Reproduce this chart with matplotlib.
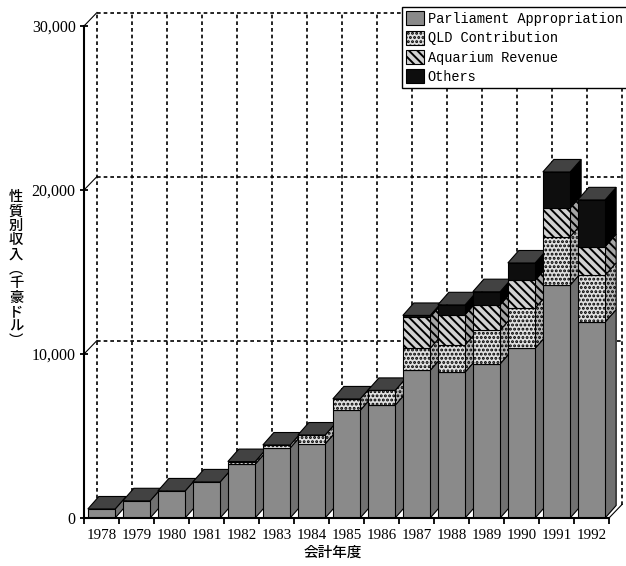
import matplotlib
matplotlib.use("Agg")
import matplotlib.pyplot as plt
from matplotlib.patches import Polygon, Patch
import numpy as np

# Revenue by source, thousand AUD
years = ["1978", "1979", "1980", "1981", "1982", "1983", "1984", "1985",
         "1986", "1987", "1988", "1989", "1990", "1991", "1992"]
parliament = [550, 1050, 1650, 2200, 3280, 4270, 4520, 6560, 6880,
              9000, 8900, 9400, 10350, 14200, 11950]
qld = [0, 0, 0, 0, 160, 180, 540, 700, 900,
       1350, 1650, 2050, 2450, 2950, 2850]
aquarium = [0, 0, 0, 0, 0, 0, 0, 0, 0,
            1900, 1850, 1550, 1700, 1750, 1750]
others = [0, 0, 0, 0, 0, 0, 0, 0, 0,
          100, 600, 800, 1050, 2200, 2850]
series_names = ["Parliament Appropriation", "QLD Contribution",
                "Aquarium Revenue", "Others"]
y_ticks = [0, 10000, 20000, 30000]
y_tick_labels = ["0", "10,000", "20,000", "30,000"]
x_label = "会計年度"
y_label = "性質別収入︵千豪ドル︶"

plt.rcParams["font.family"] = ["Liberation Serif", "Noto Sans CJK JP"]
plt.rcParams["hatch.linewidth"] = 1.4

W, H = 626, 566
fig = plt.figure(figsize=(W / 100, H / 100), dpi=100)

# front-axis origin in pixels (from top-left) and pixel scales
OX, OY = 84, 518
PX_SLOT = 35.0
PX_UNIT = 492.0 / 30000
ax = fig.add_axes([OX / W, (H - OY) / H, (W - OX) / W, OY / H])
ax.set_xlim(0, (W - OX) / PX_SLOT)
ax.set_ylim(0, OY / PX_UNIT)

# depth offsets (wall and bars), expressed in data units
wall_dx, wall_dy = 13 / PX_SLOT, 13.5 / PX_UNIT
bar_dx, bar_dy = 11 / PX_SLOT, 12.5 / PX_UNIT

n = len(years)
ymax = y_ticks[-1]

# back wall grid
dash = (0, (2.2, 1.8))
for k in range(n + 1):
    ax.plot([k + wall_dx, k + wall_dx], [wall_dy, ymax + wall_dy],
            color="black", lw=1.2, ls=dash, zorder=1, clip_on=False)
for v in y_ticks[1:]:
    ax.plot([wall_dx, n + wall_dx], [v + wall_dy, v + wall_dy],
            color="black", lw=1.2, ls=dash, zorder=1, clip_on=False)
    ax.plot([0, wall_dx], [v, v + wall_dy], color="black", lw=0.8,
            zorder=1, clip_on=False)
ax.plot([n, n + wall_dx], [0, wall_dy], color="black", lw=0.8,
        zorder=1, clip_on=False)

styles = [
    dict(face="#8a8a8a", side="#707070", hatch=None),
    dict(face="#e0e0e0", side="#bababa", hatch="...."),
    dict(face="#d2d2d2", side="#a6a6a6", hatch="\\\\\\\\"),
    dict(face="#0e0e0e", side="#000000", hatch=None),
]
top_color = "#424242"
left_off, width = 0.11, 0.78

series = [parliament, qld, aquarium, others]
x_pos = np.arange(n) + 0.5
bottoms = np.zeros(n)
containers = []
for vals, st in zip(series, styles):
    vals = np.asarray(vals, dtype=float)
    bc = ax.bar(x_pos, vals, width=width, bottom=bottoms,
                color=st["face"], edgecolor="black", linewidth=0.8,
                hatch=st["hatch"])
    containers.append((bc, vals, bottoms.copy(), st))
    bottoms = bottoms + vals
totals = bottoms

for bc, vals, bots, st in containers:
    for i, rect in enumerate(bc):
        z = 10 + 3 * i
        rect.set_zorder(z + 2)
        if vals[i] <= 0:
            rect.set_visible(False)
            continue
        x1 = i + left_off + width
        b, t = bots[i], bots[i] + vals[i]
        side = Polygon([(x1, b), (x1 + bar_dx, b + bar_dy),
                        (x1 + bar_dx, t + bar_dy), (x1, t)],
                       closed=True, facecolor=st["side"], edgecolor="black",
                       linewidth=0.8, hatch=st["hatch"], zorder=z)
        ax.add_patch(side)

for i in range(n):
    z = 10 + 3 * i
    x0 = i + left_off
    x1 = x0 + width
    h = totals[i]
    top = Polygon([(x0, h), (x1, h), (x1 + bar_dx, h + bar_dy),
                   (x0 + bar_dx, h + bar_dy)], closed=True,
                  facecolor=top_color, edgecolor="black", linewidth=0.8,
                  zorder=z + 1)
    ax.add_patch(top)

# axes, ticks and labels
for s in ("top", "right"):
    ax.spines[s].set_visible(False)
ax.spines["left"].set_bounds(0, ymax)
ax.spines["bottom"].set_bounds(0, n)
for s in ("left", "bottom"):
    ax.spines[s].set_linewidth(1.5)
    ax.spines[s].set_zorder(100)

ax.set_yticks(y_ticks, y_tick_labels)
ax.tick_params(axis="y", direction="inout", length=6, width=1.3,
               pad=3, labelsize=11.5)
ax.set_xticks(x_pos, years)
ax.set_xticks(np.arange(n + 1), minor=True)
ax.tick_params(axis="x", which="major", length=0, pad=8, labelsize=10.8)
ax.tick_params(axis="x", which="minor", direction="out", length=4, width=1.3)

ax.set_xlabel(x_label, fontfamily="Noto Sans CJK JP", fontsize=10.5,
              fontweight="medium")
ax.xaxis.set_label_coords((333 - OX) / (W - OX), (OY - 553) / OY)
ax.xaxis.label.set_verticalalignment("center")

ax.set_ylabel("\n".join(y_label), rotation=0, ha="center", va="center",
              fontfamily="Noto Sans CJK JP", fontsize=10.3,
              fontweight="medium", linespacing=1.04)
ax.yaxis.set_label_coords((16 - OX) / (W - OX), (OY - 269) / OY)

handles = [Patch(facecolor=st["face"], edgecolor="black", linewidth=0.8,
                 hatch=st["hatch"]) for st in styles]
leg = fig.legend(handles, series_names, loc="upper left",
                 bbox_to_anchor=(402 / W, 1 - 7 / H),
                 prop={"family": "Liberation Mono", "size": 9.8},
                 handlelength=1.3, handleheight=1.2, handletextpad=0.3,
                 labelspacing=0.36, borderpad=0.3, borderaxespad=0,
                 fancybox=False, framealpha=1, edgecolor="black")
leg.get_frame().set_linewidth(1.0)
leg.set_zorder(200)

fig.savefig("out.png", dpi=100)
